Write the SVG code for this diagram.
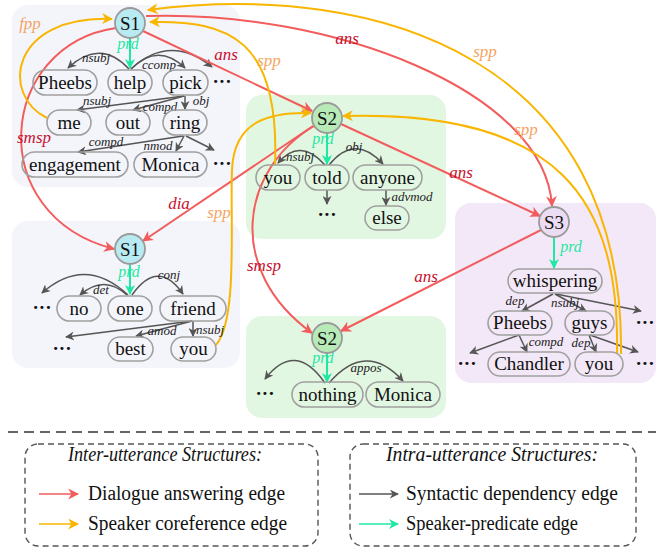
<svg xmlns="http://www.w3.org/2000/svg" width="662" height="548" viewBox="0 0 662 548">
<style>
.pb{fill:#f4f5fb}.pg{fill:#e2f7e2}.pp{fill:#f3e8f7}
.nd{fill:none;stroke:#a0a0a0;stroke-width:1.6}
.t{font-family:"Liberation Serif","Times New Roman",Times,serif;font-size:19px;fill:#111;text-anchor:middle}
.dots{font-family:"Liberation Serif","Times New Roman",serif;font-size:19px;font-weight:bold;fill:#111;text-anchor:middle}
.s1{fill:#b7ebf1;stroke:#9a9a9a;stroke-width:1.8}
.s2{fill:#b8eab8;stroke:#9a9a9a;stroke-width:1.8}
.s3{fill:#ecdcf3;stroke:#9a9a9a;stroke-width:1.8}
.g{fill:none;stroke:#555;stroke-width:1.5;marker-end:url(#ag)}
.r{fill:none;stroke:#f25c5c;stroke-width:2;marker-end:url(#ar)}
.o{fill:none;stroke:#f8b600;stroke-width:2;marker-end:url(#ao)}
.p{fill:none;stroke:#1fe8a2;stroke-width:2;marker-end:url(#ap)}
.el{font-family:"Liberation Serif","Times New Roman",serif;font-style:italic;font-size:13px;fill:#222;text-anchor:middle}
.rl{font-family:"Liberation Serif","Times New Roman",serif;font-style:italic;font-size:17px;fill:#c8102e;text-anchor:middle}
.ol{font-family:"Liberation Serif","Times New Roman",serif;font-style:italic;font-size:17px;fill:#f5a462;text-anchor:middle}
.pl{font-family:"Liberation Serif","Times New Roman",serif;font-style:italic;font-size:16px;fill:#1fe8a2;text-anchor:middle}
.lt{font-family:"Liberation Serif","Times New Roman",serif;font-size:20px;fill:#111}
.lh{font-family:"Liberation Serif","Times New Roman",serif;font-style:italic;font-size:20px;fill:#111;text-anchor:middle}
.lb{fill:none;stroke:#555;stroke-width:1.4;stroke-dasharray:6,4}
</style>
<defs>
<marker id="ag" viewBox="0 0 10 10" refX="9" refY="5" markerWidth="9" markerHeight="9" markerUnits="userSpaceOnUse" orient="auto"><path d="M0,0 L10,5 L0,10 L3,5 z" fill="#555"/></marker>
<marker id="ar" viewBox="0 0 10 10" refX="9" refY="5" markerWidth="11" markerHeight="11" markerUnits="userSpaceOnUse" orient="auto"><path d="M0,0 L10,5 L0,10 L3,5 z" fill="#f25c5c"/></marker>
<marker id="ao" viewBox="0 0 10 10" refX="9" refY="5" markerWidth="11" markerHeight="11" markerUnits="userSpaceOnUse" orient="auto"><path d="M0,0 L10,5 L0,10 L3,5 z" fill="#f8b600"/></marker>
<marker id="ap" viewBox="0 0 10 10" refX="9" refY="5" markerWidth="10" markerHeight="10" markerUnits="userSpaceOnUse" orient="auto"><path d="M0,0 L10,5 L0,10 L3,5 z" fill="#1fe8a2"/></marker>
</defs>

<!-- panels -->
<g id="panels">
<rect class="pb" x="12" y="5" width="228" height="182" rx="16"/>
<rect class="pb" x="12" y="221" width="228" height="147" rx="16"/>
<rect class="pg" x="246" y="95" width="200" height="144" rx="16"/>
<rect class="pg" x="246" y="316" width="200" height="102" rx="16"/>
<rect class="pp" x="455" y="203" width="201" height="180" rx="16"/>
</g>

<!-- connectors -->
<g id="connectors">
<!-- panel 1 syntactic -->
<path class="g" d="M129,69 Q100,38 68,68"/>
<path class="g" d="M131,69 Q158,42 185,68"/>
<path class="g" d="M131,69 Q170,33 212,67"/>
<path class="g" d="M184,96 L77,110"/>
<path class="g" d="M184,96 L133,110"/>
<path class="g" d="M185,96 L185,109"/>
<path class="g" d="M183,136 L78,152"/>
<path class="g" d="M184,136 L176,151"/>
<path class="g" d="M186,136 L214,150"/>
<path class="p" d="M130,38 L130,68"/>
<!-- panel 2 -->
<path class="g" d="M128,295 Q85,255 42,293"/>
<path class="g" d="M127,295 Q104,274 80,295"/>
<path class="g" d="M132,295 Q158,258 183,294"/>
<path class="g" d="M192,321 L66,337"/>
<path class="g" d="M192,321 L136,336"/>
<path class="g" d="M193,321 L193,336"/>
<path class="p" d="M130,264 L130,294"/>
<!-- panel 3 -->
<path class="g" d="M325,165 Q300,137 278,163"/>
<path class="g" d="M329,165 Q355,133 383,164"/>
<path class="g" d="M327,190 L327,204"/>
<path class="g" d="M386,190 L386,205"/>
<path class="p" d="M327,133 L327,164"/>
<!-- panel 4 -->
<path class="g" d="M325,383 Q295,340 265,379"/>
<path class="g" d="M329,383 Q366,340 403,381"/>
<path class="p" d="M327,353 L327,382"/>
<!-- panel 5 -->
<path class="g" d="M553,294 L522,311"/>
<path class="g" d="M555,294 L586,311"/>
<path class="g" d="M556,294 L641,311"/>
<path class="g" d="M519,335 L470,353"/>
<path class="g" d="M519,335 L527,352"/>
<path class="g" d="M589,335 L596,352"/>
<path class="g" d="M590,335 L638,352"/>
<path class="p" d="M554,237 L554,268"/>

<!-- inter-utterance red -->
<path class="r" d="M143,31 L312,111"/>
<path class="r" d="M146,16 C330,10 545,90 552,206"/>
<path class="r" d="M341,124 L540,216"/>
<path class="r" d="M541,230 L341,331"/>
<path class="r" d="M313,126 L143,241"/>
<path class="r" d="M314,126 C240,170 225,270 312,333"/>
<path class="r" d="M116,28 C-2,45 -18,215 114,249"/>
<!-- inter-utterance orange -->
<path class="o" d="M47,118 C0,95 10,15 112,19"/>
<path class="o" d="M275,165 C280,40 230,20 150,22"/>
<path class="o" d="M621,354 C625,60 380,-20 148,10"/>
<path class="o" d="M617,354 C620,200 560,110 343,116"/>
<path class="o" d="M216,345 C238,320 230,220 232,170 C234,120 270,112 311,113"/>
</g>

<!-- edge labels -->
<g id="edge-labels">
<text class="el" x="96" y="62">nsubj</text>
<text class="el" x="159" y="69">ccomp</text>
<text class="el" x="97" y="105">nsubj</text>
<text class="el" x="160" y="111">compd</text>
<text class="el" x="201" y="105">obj</text>
<text class="el" x="106" y="146">compd</text>
<text class="el" x="158" y="150">nmod</text>
<text class="el" x="101" y="294">det</text>
<text class="el" x="169" y="279">conj</text>
<text class="el" x="162" y="335">amod</text>
<text class="el" x="210" y="334">nsubj</text>
<text class="el" x="300" y="161">nsubj</text>
<text class="el" x="354" y="151">obj</text>
<text class="el" x="412" y="201">advmod</text>
<text class="el" x="366" y="372">appos</text>
<text class="el" x="515" y="305">dep</text>
<text class="el" x="565" y="307">nsubj</text>
<text class="el" x="546" y="346">compd</text>
<text class="el" x="581" y="347">dep</text>
<text class="pl" x="128" y="49">prd</text>
<text class="pl" x="129" y="277">prd</text>
<text class="pl" x="323" y="144">prd</text>
<text class="pl" x="323" y="363">prd</text>
<text class="pl" x="571" y="252">prd</text>
<text class="rl" x="226" y="60">ans</text>
<text class="rl" x="347" y="44">ans</text>
<text class="rl" x="461" y="178">ans</text>
<text class="rl" x="426" y="282">ans</text>
<text class="rl" x="179" y="209">dia</text>
<text class="rl" x="264" y="271">smsp</text>
<text class="rl" x="34" y="143">smsp</text>
<text class="ol" x="30" y="29">fpp</text>
<text class="ol" x="269" y="66">spp</text>
<text class="ol" x="485" y="57">spp</text>
<text class="ol" x="526" y="135">spp</text>
<text class="ol" x="219" y="218">spp</text>
</g>

<!-- utterance 1 (top) -->
<g id="u1-S1"><circle class="s1" cx="130" cy="23" r="15"/><text class="t" x="130" y="29.5">S1</text></g>
<g id="u1-Pheebs"><rect class="nd" x="33" y="70" width="64" height="25" rx="12.5"/><text class="t" x="65" y="88.5">Pheebs</text></g>
<g id="u1-help"><rect class="nd" x="108" y="70" width="44" height="25" rx="12.5"/><text class="t" x="130" y="88.5">help</text></g>
<g id="u1-pick"><rect class="nd" x="163" y="70" width="45" height="25" rx="12.5"/><text class="t" x="185.5" y="88.5">pick</text></g>
<g id="u1-dots1"><text class="dots" x="222" y="88">···</text></g>
<g id="u1-me"><rect class="nd" x="47" y="110" width="44" height="25" rx="12.5"/><text class="t" x="69" y="128.5">me</text></g>
<g id="u1-out"><rect class="nd" x="106" y="110" width="44" height="25" rx="12.5"/><text class="t" x="128" y="128.5">out</text></g>
<g id="u1-ring"><rect class="nd" x="163" y="110" width="44" height="25" rx="12.5"/><text class="t" x="185" y="128.5">ring</text></g>
<g id="u1-engagement"><rect class="nd" x="22" y="152" width="106" height="25" rx="12.5"/><text class="t" x="75" y="170.5">engagement</text></g>
<g id="u1-Monica"><rect class="nd" x="134" y="152" width="73" height="25" rx="12.5"/><text class="t" x="170.5" y="170.5">Monica</text></g>
<g id="u1-dots2"><text class="dots" x="222" y="170">···</text></g>

<!-- utterance 1 (bottom) -->
<g id="u1b-S1"><circle class="s1" cx="130" cy="249" r="15"/><text class="t" x="130" y="255.5">S1</text></g>
<g id="u1b-dots1"><text class="dots" x="42" y="314">···</text></g>
<g id="u1b-no"><rect class="nd" x="57" y="296" width="44" height="25" rx="12.5"/><text class="t" x="79" y="314.5">no</text></g>
<g id="u1b-one"><rect class="nd" x="108" y="296" width="44" height="25" rx="12.5"/><text class="t" x="130" y="314.5">one</text></g>
<g id="u1b-friend"><rect class="nd" x="160" y="296" width="66" height="25" rx="12.5"/><text class="t" x="193" y="314.5">friend</text></g>
<g id="u1b-dots2"><text class="dots" x="62" y="355">···</text></g>
<g id="u1b-best"><rect class="nd" x="108" y="337" width="45" height="24" rx="12"/><text class="t" x="130.5" y="355">best</text></g>
<g id="u1b-you"><rect class="nd" x="171" y="337" width="45" height="24" rx="12"/><text class="t" x="193.5" y="355">you</text></g>

<!-- utterance 2 (top) -->
<g id="u2-S2"><circle class="s2" cx="327" cy="118" r="15"/><text class="t" x="327" y="124.5">S2</text></g>
<g id="u2-you"><rect class="nd" x="256" y="165" width="44" height="25" rx="12.5"/><text class="t" x="278" y="183.5">you</text></g>
<g id="u2-told"><rect class="nd" x="305" y="165" width="44" height="25" rx="12.5"/><text class="t" x="327" y="183.5">told</text></g>
<g id="u2-anyone"><rect class="nd" x="353" y="165" width="69" height="25" rx="12.5"/><text class="t" x="387.5" y="183.5">anyone</text></g>
<g id="u2-dots"><text class="dots" x="327" y="221">···</text></g>
<g id="u2-else"><rect class="nd" x="365" y="206" width="44" height="24" rx="12"/><text class="t" x="387" y="224">else</text></g>

<!-- utterance 2 (bottom) -->
<g id="u2b-S2"><circle class="s2" cx="327" cy="338" r="15"/><text class="t" x="327" y="344.5">S2</text></g>
<g id="u2b-dots"><text class="dots" x="265" y="400">···</text></g>
<g id="u2b-nothing"><rect class="nd" x="292" y="382" width="71" height="25" rx="12.5"/><text class="t" x="327.5" y="400.5">nothing</text></g>
<g id="u2b-Monica"><rect class="nd" x="366" y="382" width="74" height="25" rx="12.5"/><text class="t" x="403" y="400.5">Monica</text></g>

<!-- utterance 3 -->
<g id="u3-S3"><circle class="s3" cx="554" cy="222" r="15"/><text class="t" x="554" y="228.5">S3</text></g>
<g id="u3-whispering"><rect class="nd" x="508" y="269" width="94" height="24" rx="12"/><text class="t" x="555" y="287">whispering</text></g>
<g id="u3-Pheebs"><rect class="nd" x="488" y="311" width="64" height="24" rx="12"/><text class="t" x="520" y="329">Pheebs</text></g>
<g id="u3-guys"><rect class="nd" x="565" y="311" width="49" height="24" rx="12"/><text class="t" x="589.5" y="329">guys</text></g>
<g id="u3-dots1"><text class="dots" x="645" y="329">···</text></g>
<g id="u3-dots2"><text class="dots" x="467" y="370">···</text></g>
<g id="u3-Chandler"><rect class="nd" x="488" y="352" width="82" height="24" rx="12"/><text class="t" x="529" y="370">Chandler</text></g>
<g id="u3-you"><rect class="nd" x="575" y="352" width="48" height="24" rx="12"/><text class="t" x="599" y="370">you</text></g>
<g id="u3-dots3"><text class="dots" x="645" y="370">···</text></g>

<!-- legend -->
<g id="legend">
<line x1="8" y1="432" x2="656" y2="432" stroke="#333" stroke-width="1.5" stroke-dasharray="10,6"/>
<rect class="lb" x="25" y="444" width="293" height="102" rx="13"/>
<rect class="lb" x="350" y="444" width="286" height="102" rx="13"/>
<text class="lh" x="165" y="461" textLength="194" lengthAdjust="spacingAndGlyphs">Inter-utterance Structures:</text>
<text class="lh" x="492" y="461" textLength="212" lengthAdjust="spacingAndGlyphs">Intra-utterance Structures:</text>
<line x1="39" y1="494" x2="78" y2="494" stroke="#f25c5c" stroke-width="1.6" marker-end="url(#ar)"/>
<text class="lt" x="88" y="500" textLength="197" lengthAdjust="spacingAndGlyphs">Dialogue answering edge</text>
<line x1="39" y1="524" x2="78" y2="524" stroke="#f8b600" stroke-width="1.6" marker-end="url(#ao)"/>
<text class="lt" x="88" y="530" textLength="199" lengthAdjust="spacingAndGlyphs">Speaker coreference edge</text>
<line x1="359" y1="494" x2="398" y2="494" stroke="#555" stroke-width="1.6" marker-end="url(#ag)"/>
<text class="lt" x="406" y="500" textLength="212" lengthAdjust="spacingAndGlyphs">Syntactic dependency edge</text>
<line x1="359" y1="524" x2="398" y2="524" stroke="#1fe8a2" stroke-width="1.6" marker-end="url(#ap)"/>
<text class="lt" x="406" y="530" textLength="172" lengthAdjust="spacingAndGlyphs">Speaker-predicate edge</text>
</g>
</svg>
